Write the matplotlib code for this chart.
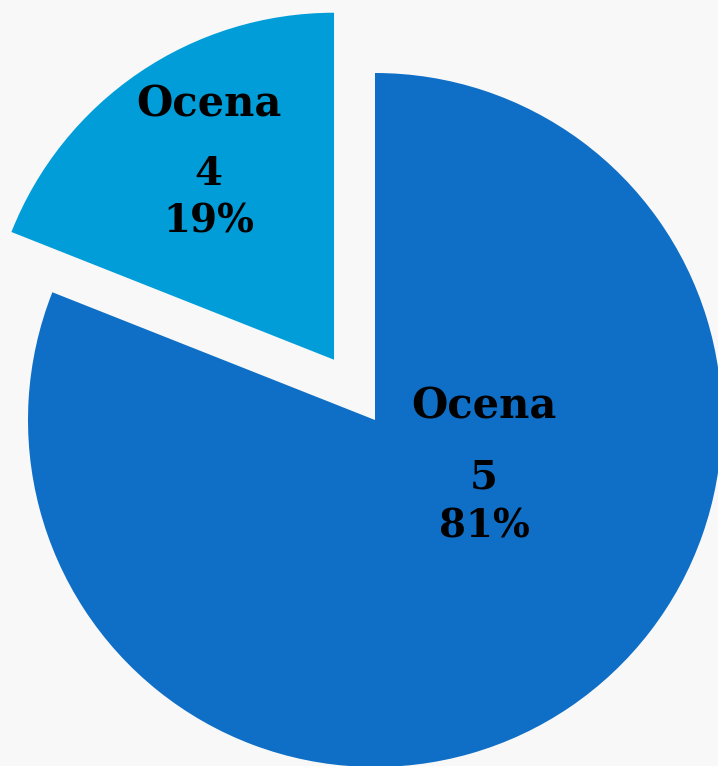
import matplotlib.pyplot as plt

# chart data
grades = ['4', '5']
shares = [19, 81]
colors = ['#009DD9', '#0F6FC6']
explode = [0.21, 0]

# label positions (data units, pie radius = 1)
label_pos = {
    '4': (-0.48, [0.876, 0.677, 0.539]),
    '5': (0.314, [0.003, -0.196, -0.340]),
}

fig = plt.figure(figsize=(7.18, 7.66), dpi=100)
fig.patch.set_facecolor('#F8F8F8')
ax = fig.add_axes([0, 0, 1, 1])
ax.set_facecolor('#F8F8F8')

ax.pie(shares, colors=colors, explode=explode, startangle=90,
       counterclock=True, radius=1.0,
       wedgeprops=dict(linewidth=0))

font = dict(family='DejaVu Serif', fontweight='bold', color='black',
            ha='center', va='baseline')
for grade, share in zip(grades, shares):
    x, ys = label_pos[grade]
    ax.text(x, ys[0], 'Ocena', fontsize=30, **font)
    ax.text(x, ys[1], grade, fontsize=29, **font)
    ax.text(x, ys[2], f'{share}%', fontsize=28, **font)

# map pie centre to (375, 420) px with radius 347 px
ax.set_xlim(-375 / 347, (718 - 375) / 347)
ax.set_ylim(-(766 - 420) / 347, 420 / 347)
ax.set_aspect('equal')
ax.axis('off')

fig.savefig('out.png', dpi=100, facecolor=fig.get_facecolor())
